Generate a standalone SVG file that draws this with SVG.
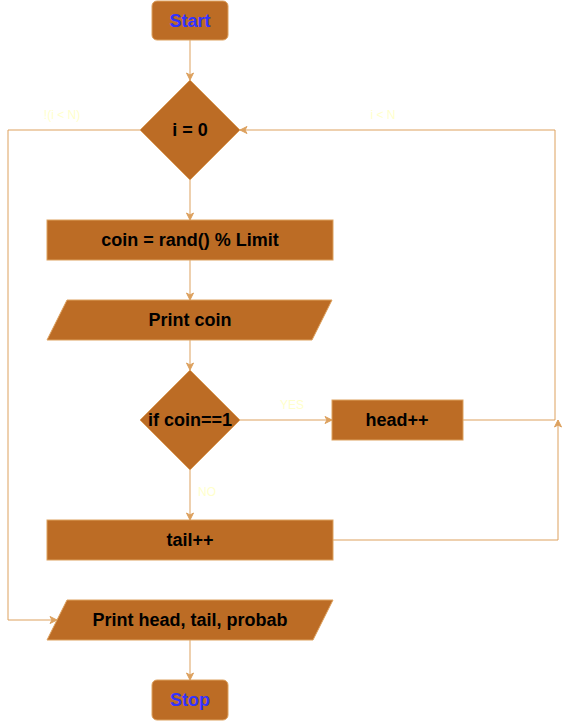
<svg xmlns="http://www.w3.org/2000/svg" width="567" height="721" viewBox="0 0 567 721">
<style>
.n{fill:#BC6C25;stroke:#DDA15E;stroke-width:1}
.t{font-family:"Liberation Sans",Arial,sans-serif;font-size:18px;font-weight:bold;fill:#000;text-anchor:middle;dominant-baseline:central}
.tb{fill:#3333FF}
.e{fill:none;stroke:#DDA15E;stroke-width:1}
.l{font-family:"Liberation Sans",Arial,sans-serif;font-size:12px;fill:#FFFFCC;text-anchor:middle;dominant-baseline:central}
</style>
<defs>
<marker id="a" markerWidth="10" markerHeight="10" refX="8" refY="5" orient="auto" markerUnits="userSpaceOnUse">
<path d="M1,1.5 L8,5 L1,8.5 L3,5 Z" fill="#DDA15E" stroke="#DDA15E"/>
</marker>
</defs>
<rect width="567" height="721" fill="#fff"/>
<g id="connectors">
<path class="e" d="M190,40 V80" marker-end="url(#a)"/>
<path class="e" d="M190,180 V220" marker-end="url(#a)"/>
<path class="e" d="M190,260 V300" marker-end="url(#a)"/>
<path class="e" d="M190,340 V370" marker-end="url(#a)"/>
<path class="e" d="M240,420 H332" marker-end="url(#a)"/>
<path class="e" d="M463,420 H555 V130 H240" marker-end="url(#a)"/>
<path class="e" d="M190,470 V520" marker-end="url(#a)"/>
<path class="e" d="M333,540 H558 V420" marker-end="url(#a)"/>
<path class="e" d="M140,130 H8 V620 H57" marker-end="url(#a)"/>
<path class="e" d="M190,640 V680" marker-end="url(#a)"/>
<text class="l" x="62" y="115">!(i &lt; N)</text>
<text class="l" x="383" y="115">i &lt; N</text>
<text class="l" x="292" y="405">YES</text>
<text class="l" x="207" y="492">NO</text>
</g>
<g id="start"><rect class="n" x="152" y="1" width="76" height="39" rx="5"/><text class="t tb" x="190" y="21">Start</text></g>
<g id="init"><path class="n" d="M190,80 L240,130 L190,180 L140,130 Z"/><text class="t" x="190" y="130">i = 0</text></g>
<g id="coin"><rect class="n" x="47" y="220" width="286" height="40"/><text class="t" x="190" y="240">coin = rand() % Limit</text></g>
<g id="printcoin"><path class="n" d="M67,300 H332 L312,340 H47 Z"/><text class="t" x="190" y="320">Print coin</text></g>
<g id="cond"><path class="n" d="M190,370 L240,420 L190,470 L140,420 Z"/><text class="t" x="190" y="420">if coin==1</text></g>
<g id="head"><rect class="n" x="332" y="400" width="131" height="40"/><text class="t" x="397" y="420">head++</text></g>
<g id="tail"><rect class="n" x="47" y="520" width="286" height="40"/><text class="t" x="190" y="540">tail++</text></g>
<g id="printres"><path class="n" d="M67,600 H333 L313,640 H47 Z"/><text class="t" x="190" y="620">Print head, tail, probab</text></g>
<g id="stop"><rect class="n" x="152" y="680" width="76" height="40" rx="5"/><text class="t tb" x="190" y="700">Stop</text></g>
</svg>
